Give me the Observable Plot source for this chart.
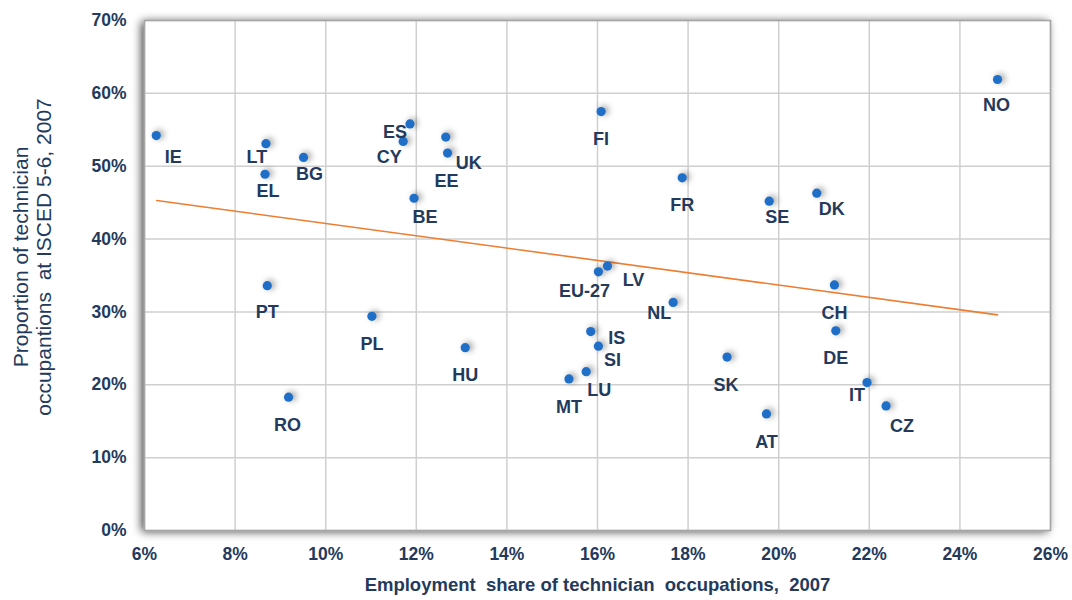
<!DOCTYPE html>
<html>
<head>
<meta charset="utf-8">
<script src="https://cdn.jsdelivr.net/npm/d3@7"></script>
<script src="https://cdn.jsdelivr.net/npm/@observablehq/plot@0.6"></script>
<style>
  html, body { margin: 0; padding: 0; background: #ffffff; }
  #chart svg { display: block; }
</style>
</head>
<body>
<div id="chart"></div>
<script>
// ---- data ----
const countries = ["IE","LT","EL","BG","PT","PL","RO","HU","ES","CY","UK","EE","BE","FI","EU-27","LV","NL","IS","SI","LU","MT","SK","FR","SE","DK","CH","DE","IT","CZ","AT","NO"];
const employmentShare = [6.26, 8.68, 8.66, 9.51, 8.71, 11.02, 9.18, 13.08, 11.86, 11.71, 12.65, 12.69, 11.95, 16.08, 16.02, 16.22, 17.67, 15.85, 16.02, 15.75, 15.37, 18.86, 17.87, 19.79, 20.84, 21.23, 21.26, 21.95, 22.37, 19.73, 24.83];
const iscedProportion = [54.2, 53.1, 48.9, 51.2, 33.6, 29.4, 18.3, 25.1, 55.8, 53.4, 54.0, 51.8, 45.6, 57.5, 35.5, 36.3, 31.3, 27.3, 25.3, 21.8, 20.8, 23.8, 48.4, 45.2, 46.3, 33.7, 27.4, 20.3, 17.1, 16.0, 61.9];
const trendX = [6.27, 24.83];
const trendY = [45.3, 29.6];
const xTicks = [6, 8, 10, 12, 14, 16, 18, 20, 22, 24, 26];
const yTicks = [0, 10, 20, 30, 40, 50, 60, 70];
const xTitle = "Employment  share of technician  occupations,  2007";
const yTitleLines = ["Proportion of technician", "occupantions  at ISCED 5-6, 2007"];

// ---- label placement (screen offsets in px) ----
const labelOffset = {
  "IE":[17,22], "LT":[-9,14], "EL":[3,17], "BG":[6,17], "PT":[0,27], "PL":[0,28], "RO":[-1,28],
  "HU":[0,28], "ES":[-15,8], "CY":[-14,16], "UK":[23,26], "EE":[-1,28], "BE":[11,19], "FI":[0,28],
  "EU-27":[-14,19], "LV":[26,14], "NL":[-14,11], "IS":[26,7], "SI":[14,14], "LU":[13,19], "MT":[0,28],
  "SK":[-1,28], "FR":[0,27], "SE":[8,16], "DK":[15,16], "CH":[0,28], "DE":[0,27], "IT":[-10,13],
  "CZ":[16,20], "AT":[0,28], "NO":[-1,26]
};

const points = countries.map((c, i) => ({country: c, x: employmentShare[i], y: iscedProportion[i]}));
const trend = trendX.map((x, i) => ({x, y: trendY[i]}));

const ink = "#243a5c";
const fontFamily = "'Liberation Sans', Arial, sans-serif";

const labelMarks = points.map(p => Plot.text([p], {
  x: "x", y: "y", text: "country",
  dx: labelOffset[p.country][0], dy: labelOffset[p.country][1],
  fill: ink, fontSize: 18, fontWeight: "bold", textAnchor: "middle", lineAnchor: "middle"
}));

const chart = Plot.plot({
  width: 1072,
  height: 600,
  marginLeft: 144,
  marginRight: 22,
  marginTop: 20,
  marginBottom: 70,
  style: {fontFamily, background: "#ffffff", overflow: "visible"},
  x: {domain: [6, 26]},
  y: {domain: [0, 70]},
  marks: [
    Plot.frame({fill: "#ffffff", stroke: "none"}),
    Plot.gridX(xTicks, {stroke: "#cfcfcf", strokeOpacity: 1, strokeWidth: 1.5}),
    Plot.gridY(yTicks, {stroke: "#cfcfcf", strokeOpacity: 1, strokeWidth: 1.5}),
    Plot.line(trend, {x: "x", y: "y", stroke: "#ED7D31", strokeWidth: 1.6}),
    Plot.dot(points, {x: "x", y: "y", r: 4.6, fill: "#1f6fc8", stroke: "none"}),
    ...labelMarks,
    Plot.frame({stroke: "#a6a6a6", strokeWidth: 1.5}),
    Plot.axisX(xTicks, {tickSize: 0, tickPadding: 17, tickFormat: d => d + "%", fontSize: 17.5, fontWeight: "bold", fill: ink, label: null}),
    Plot.axisY(yTicks, {tickSize: 0, tickPadding: 18, tickFormat: d => d + "%", fontSize: 17.5, fontWeight: "bold", fill: ink, label: null}),
    Plot.text([xTitle], {frameAnchor: "bottom", dy: 55, text: d => d, fill: ink, fontSize: 18.5, fontWeight: "bold", lineAnchor: "middle"})
  ]
});

document.getElementById("chart").appendChild(chart);

const svg = d3.select(chart);

// rotated two-line y-axis title
const yt = svg.append("text")
  .attr("transform", "translate(32,257) rotate(-90)")
  .attr("text-anchor", "middle")
  .attr("fill", ink)
  .attr("font-size", 21)
  .attr("font-family", fontFamily);
yTitleLines.forEach((line, i) => {
  yt.append("tspan").attr("x", 0).attr("y", (i - 0.5) * 23.5).attr("dy", "0.35em").text(line);
});

// soft shadows like the original
const frames = svg.selectAll('[aria-label="frame"]').nodes();
if (frames.length) d3.select(frames[0]).style("filter", "drop-shadow(-3px 1px 5px rgba(0,0,0,0.75))");
svg.selectAll('[aria-label="dot"]').style("filter", "drop-shadow(3px -1px 3px rgba(0,0,0,0.4))");
</script>
</body>
</html>
